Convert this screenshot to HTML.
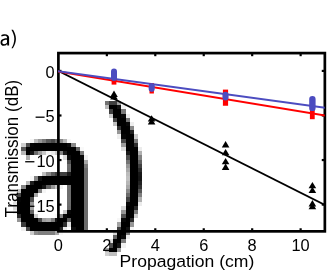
<!DOCTYPE html>
<html><head><meta charset="utf-8"><title>fig</title>
<style>html,body{margin:0;padding:0;background:#fff;overflow:hidden}svg{display:block;will-change:transform}</style></head>
<body>
<svg width="328" height="273" viewBox="0 0 328 273">
<defs>
<clipPath id="ax"><rect x="58.05" y="53.10" width="266.65" height="178.25"/></clipPath>
<filter id="nf" x="0" y="0" width="328" height="273" filterUnits="userSpaceOnUse"><feOffset dx="0" dy="0"/></filter>
</defs>
<rect width="328" height="273" fill="#fff"/>
<g filter="url(#nf)">
<g id="big" shape-rendering="crispEdges">
<rect x="105" y="101" width="4" height="4" fill="#727272"/>
<rect x="109" y="101" width="8" height="4" fill="#3f3f3f"/>
<rect x="117" y="101" width="4" height="4" fill="#9e9e9e"/>
<rect x="105" y="105" width="4" height="4" fill="#b9b9b9"/>
<rect x="109" y="105" width="8" height="4" fill="#000000"/>
<rect x="117" y="105" width="4" height="4" fill="#121212"/>
<rect x="121" y="105" width="5" height="4" fill="#f1f1f1"/>
<rect x="109" y="109" width="4" height="5" fill="#404040"/>
<rect x="113" y="109" width="8" height="5" fill="#000000"/>
<rect x="121" y="109" width="5" height="5" fill="#797979"/>
<rect x="109" y="114" width="4" height="4" fill="#c9c9c9"/>
<rect x="113" y="114" width="8" height="4" fill="#000000"/>
<rect x="121" y="114" width="5" height="4" fill="#080808"/>
<rect x="126" y="114" width="4" height="4" fill="#ececec"/>
<rect x="113" y="118" width="4" height="4" fill="#464646"/>
<rect x="117" y="118" width="9" height="4" fill="#000000"/>
<rect x="126" y="118" width="4" height="4" fill="#747474"/>
<rect x="113" y="122" width="4" height="4" fill="#c0c0c0"/>
<rect x="117" y="122" width="9" height="4" fill="#000000"/>
<rect x="126" y="122" width="4" height="4" fill="#090909"/>
<rect x="130" y="122" width="4" height="4" fill="#eeeeee"/>
<rect x="117" y="126" width="4" height="4" fill="#333333"/>
<rect x="121" y="126" width="9" height="4" fill="#000000"/>
<rect x="130" y="126" width="4" height="4" fill="#888888"/>
<rect x="117" y="130" width="4" height="4" fill="#969696"/>
<rect x="121" y="130" width="9" height="4" fill="#000000"/>
<rect x="130" y="130" width="4" height="4" fill="#222222"/>
<rect x="117" y="134" width="4" height="5" fill="#efefef"/>
<rect x="121" y="134" width="5" height="5" fill="#050505"/>
<rect x="126" y="134" width="8" height="5" fill="#000000"/>
<rect x="134" y="134" width="4" height="5" fill="#cccccc"/>
<rect x="30" y="139" width="4" height="4" fill="#f4f4f4"/>
<rect x="34" y="139" width="4" height="4" fill="#b9b9b9"/>
<rect x="38" y="139" width="4" height="4" fill="#979797"/>
<rect x="42" y="139" width="4" height="4" fill="#797979"/>
<rect x="46" y="139" width="5" height="4" fill="#585858"/>
<rect x="51" y="139" width="4" height="4" fill="#474747"/>
<rect x="55" y="139" width="4" height="4" fill="#686868"/>
<rect x="59" y="139" width="4" height="4" fill="#8a8a8a"/>
<rect x="63" y="139" width="4" height="4" fill="#b8b8b8"/>
<rect x="67" y="139" width="4" height="4" fill="#f7f7f7"/>
<rect x="121" y="139" width="5" height="4" fill="#494949"/>
<rect x="126" y="139" width="8" height="4" fill="#000000"/>
<rect x="134" y="139" width="4" height="4" fill="#7b7b7b"/>
<rect x="21" y="143" width="5" height="4" fill="#cfcfcf"/>
<rect x="26" y="143" width="4" height="4" fill="#4d4d4d"/>
<rect x="30" y="143" width="4" height="4" fill="#040404"/>
<rect x="34" y="143" width="33" height="4" fill="#000000"/>
<rect x="67" y="143" width="4" height="4" fill="#0b0b0b"/>
<rect x="71" y="143" width="5" height="4" fill="#898989"/>
<rect x="121" y="143" width="5" height="4" fill="#9b9b9b"/>
<rect x="126" y="143" width="8" height="4" fill="#000000"/>
<rect x="134" y="143" width="4" height="4" fill="#2e2e2e"/>
<rect x="21" y="147" width="5" height="4" fill="#575757"/>
<rect x="26" y="147" width="50" height="4" fill="#000000"/>
<rect x="76" y="147" width="4" height="4" fill="#606060"/>
<rect x="80" y="147" width="4" height="4" fill="#f9f9f9"/>
<rect x="121" y="147" width="5" height="4" fill="#dedede"/>
<rect x="126" y="147" width="12" height="4" fill="#000000"/>
<rect x="138" y="147" width="4" height="4" fill="#ececec"/>
<rect x="21" y="151" width="5" height="4" fill="#b7b7b7"/>
<rect x="26" y="151" width="4" height="4" fill="#000000"/>
<rect x="30" y="151" width="4" height="4" fill="#161616"/>
<rect x="34" y="151" width="4" height="4" fill="#6c6c6c"/>
<rect x="38" y="151" width="4" height="4" fill="#9f9f9f"/>
<rect x="42" y="151" width="4" height="4" fill="#c6c6c6"/>
<rect x="46" y="151" width="5" height="4" fill="#f4f4f4"/>
<rect x="51" y="151" width="4" height="4" fill="#eaeaea"/>
<rect x="55" y="151" width="4" height="4" fill="#cbcbcb"/>
<rect x="59" y="151" width="4" height="4" fill="#858585"/>
<rect x="63" y="151" width="4" height="4" fill="#1c1c1c"/>
<rect x="67" y="151" width="13" height="4" fill="#000000"/>
<rect x="80" y="151" width="4" height="4" fill="#777777"/>
<rect x="126" y="151" width="4" height="4" fill="#1a1a1a"/>
<rect x="130" y="151" width="8" height="4" fill="#000000"/>
<rect x="138" y="151" width="4" height="4" fill="#b0b0b0"/>
<rect x="26" y="155" width="4" height="5" fill="#adadad"/>
<rect x="63" y="155" width="4" height="5" fill="#dcdcdc"/>
<rect x="67" y="155" width="4" height="5" fill="#0c0c0c"/>
<rect x="71" y="155" width="9" height="5" fill="#000000"/>
<rect x="80" y="155" width="4" height="5" fill="#070707"/>
<rect x="84" y="155" width="4" height="5" fill="#f0f0f0"/>
<rect x="126" y="155" width="4" height="5" fill="#4e4e4e"/>
<rect x="130" y="155" width="8" height="5" fill="#000000"/>
<rect x="138" y="155" width="4" height="5" fill="#818181"/>
<rect x="67" y="160" width="4" height="4" fill="#4e4e4e"/>
<rect x="71" y="160" width="13" height="4" fill="#000000"/>
<rect x="84" y="160" width="4" height="4" fill="#a5a5a5"/>
<rect x="126" y="160" width="4" height="4" fill="#737373"/>
<rect x="130" y="160" width="8" height="4" fill="#000000"/>
<rect x="138" y="160" width="4" height="4" fill="#5f5f5f"/>
<rect x="67" y="164" width="4" height="4" fill="#6e6e6e"/>
<rect x="71" y="164" width="13" height="4" fill="#000000"/>
<rect x="84" y="164" width="4" height="4" fill="#787878"/>
<rect x="126" y="164" width="4" height="4" fill="#969696"/>
<rect x="130" y="164" width="8" height="4" fill="#000000"/>
<rect x="138" y="164" width="4" height="4" fill="#404040"/>
<rect x="67" y="168" width="4" height="4" fill="#6c6c6c"/>
<rect x="71" y="168" width="13" height="4" fill="#000000"/>
<rect x="84" y="168" width="4" height="4" fill="#6b6b6b"/>
<rect x="126" y="168" width="4" height="4" fill="#a9a9a9"/>
<rect x="130" y="168" width="8" height="4" fill="#000000"/>
<rect x="138" y="168" width="4" height="4" fill="#2a2a2a"/>
<rect x="42" y="172" width="4" height="4" fill="#bfbfbf"/>
<rect x="46" y="172" width="5" height="4" fill="#868686"/>
<rect x="51" y="172" width="4" height="4" fill="#5a5a5a"/>
<rect x="55" y="172" width="12" height="4" fill="#3f3f3f"/>
<rect x="67" y="172" width="4" height="4" fill="#1b1b1b"/>
<rect x="71" y="172" width="13" height="4" fill="#000000"/>
<rect x="84" y="172" width="4" height="4" fill="#6b6b6b"/>
<rect x="126" y="172" width="4" height="4" fill="#bbbbbb"/>
<rect x="130" y="172" width="8" height="4" fill="#000000"/>
<rect x="138" y="172" width="4" height="4" fill="#171717"/>
<rect x="30" y="176" width="4" height="5" fill="#f7f7f7"/>
<rect x="34" y="176" width="4" height="5" fill="#838383"/>
<rect x="38" y="176" width="4" height="5" fill="#131313"/>
<rect x="42" y="176" width="42" height="5" fill="#000000"/>
<rect x="84" y="176" width="4" height="5" fill="#6b6b6b"/>
<rect x="126" y="176" width="4" height="5" fill="#c1c1c1"/>
<rect x="130" y="176" width="8" height="5" fill="#000000"/>
<rect x="138" y="176" width="4" height="5" fill="#141414"/>
<rect x="26" y="181" width="4" height="4" fill="#b7b7b7"/>
<rect x="30" y="181" width="4" height="4" fill="#1e1e1e"/>
<rect x="34" y="181" width="50" height="4" fill="#000000"/>
<rect x="84" y="181" width="4" height="4" fill="#6b6b6b"/>
<rect x="126" y="181" width="4" height="4" fill="#b6b6b6"/>
<rect x="130" y="181" width="8" height="4" fill="#000000"/>
<rect x="138" y="181" width="4" height="4" fill="#212121"/>
<rect x="21" y="185" width="5" height="4" fill="#848484"/>
<rect x="26" y="185" width="16" height="4" fill="#000000"/>
<rect x="42" y="185" width="4" height="4" fill="#151515"/>
<rect x="46" y="185" width="5" height="4" fill="#606060"/>
<rect x="51" y="185" width="4" height="4" fill="#949494"/>
<rect x="55" y="185" width="4" height="4" fill="#c3c3c3"/>
<rect x="59" y="185" width="4" height="4" fill="#f1f1f1"/>
<rect x="67" y="185" width="4" height="4" fill="#6f6f6f"/>
<rect x="71" y="185" width="13" height="4" fill="#000000"/>
<rect x="84" y="185" width="4" height="4" fill="#6b6b6b"/>
<rect x="126" y="185" width="4" height="4" fill="#a8a8a8"/>
<rect x="130" y="185" width="8" height="4" fill="#000000"/>
<rect x="138" y="185" width="4" height="4" fill="#313131"/>
<rect x="17" y="189" width="4" height="4" fill="#c3c3c3"/>
<rect x="21" y="189" width="17" height="4" fill="#000000"/>
<rect x="38" y="189" width="4" height="4" fill="#818181"/>
<rect x="42" y="189" width="4" height="4" fill="#f5f5f5"/>
<rect x="67" y="189" width="4" height="4" fill="#6d6d6d"/>
<rect x="71" y="189" width="13" height="4" fill="#000000"/>
<rect x="84" y="189" width="4" height="4" fill="#6b6b6b"/>
<rect x="126" y="189" width="4" height="4" fill="#8a8a8a"/>
<rect x="130" y="189" width="8" height="4" fill="#000000"/>
<rect x="138" y="189" width="4" height="4" fill="#555555"/>
<rect x="17" y="193" width="4" height="4" fill="#434343"/>
<rect x="21" y="193" width="13" height="4" fill="#000000"/>
<rect x="34" y="193" width="4" height="4" fill="#a7a7a7"/>
<rect x="67" y="193" width="4" height="4" fill="#6d6d6d"/>
<rect x="71" y="193" width="13" height="4" fill="#000000"/>
<rect x="84" y="193" width="4" height="4" fill="#6b6b6b"/>
<rect x="126" y="193" width="4" height="4" fill="#6b6b6b"/>
<rect x="130" y="193" width="8" height="4" fill="#000000"/>
<rect x="138" y="193" width="4" height="4" fill="#7e7e7e"/>
<rect x="13" y="197" width="4" height="5" fill="#f5f5f5"/>
<rect x="17" y="197" width="4" height="5" fill="#040404"/>
<rect x="21" y="197" width="9" height="5" fill="#000000"/>
<rect x="30" y="197" width="4" height="5" fill="#4c4c4c"/>
<rect x="67" y="197" width="4" height="5" fill="#6e6e6e"/>
<rect x="71" y="197" width="13" height="5" fill="#000000"/>
<rect x="84" y="197" width="4" height="5" fill="#6b6b6b"/>
<rect x="126" y="197" width="4" height="5" fill="#414141"/>
<rect x="130" y="197" width="8" height="5" fill="#000000"/>
<rect x="138" y="197" width="4" height="5" fill="#afafaf"/>
<rect x="13" y="202" width="4" height="4" fill="#dedede"/>
<rect x="17" y="202" width="13" height="4" fill="#000000"/>
<rect x="30" y="202" width="4" height="4" fill="#939393"/>
<rect x="67" y="202" width="4" height="4" fill="#6c6c6c"/>
<rect x="71" y="202" width="13" height="4" fill="#000000"/>
<rect x="84" y="202" width="4" height="4" fill="#6b6b6b"/>
<rect x="126" y="202" width="4" height="4" fill="#090909"/>
<rect x="130" y="202" width="8" height="4" fill="#000000"/>
<rect x="138" y="202" width="4" height="4" fill="#ebebeb"/>
<rect x="13" y="206" width="4" height="4" fill="#d9d9d9"/>
<rect x="17" y="206" width="13" height="4" fill="#000000"/>
<rect x="30" y="206" width="4" height="4" fill="#a3a3a3"/>
<rect x="67" y="206" width="4" height="4" fill="#686868"/>
<rect x="71" y="206" width="13" height="4" fill="#000000"/>
<rect x="84" y="206" width="4" height="4" fill="#6b6b6b"/>
<rect x="121" y="206" width="5" height="4" fill="#d9d9d9"/>
<rect x="126" y="206" width="8" height="4" fill="#000000"/>
<rect x="134" y="206" width="4" height="4" fill="#282828"/>
<rect x="13" y="210" width="4" height="4" fill="#efefef"/>
<rect x="17" y="210" width="13" height="4" fill="#000000"/>
<rect x="30" y="210" width="4" height="4" fill="#666666"/>
<rect x="63" y="210" width="4" height="4" fill="#c8c8c8"/>
<rect x="67" y="210" width="4" height="4" fill="#060606"/>
<rect x="71" y="210" width="13" height="4" fill="#000000"/>
<rect x="84" y="210" width="4" height="4" fill="#6b6b6b"/>
<rect x="121" y="210" width="5" height="4" fill="#969696"/>
<rect x="126" y="210" width="8" height="4" fill="#000000"/>
<rect x="134" y="210" width="4" height="4" fill="#787878"/>
<rect x="17" y="214" width="4" height="4" fill="#282828"/>
<rect x="21" y="214" width="9" height="4" fill="#000000"/>
<rect x="30" y="214" width="4" height="4" fill="#050505"/>
<rect x="34" y="214" width="4" height="4" fill="#cecece"/>
<rect x="55" y="214" width="4" height="4" fill="#f7f7f7"/>
<rect x="59" y="214" width="4" height="4" fill="#858585"/>
<rect x="63" y="214" width="4" height="4" fill="#090909"/>
<rect x="67" y="214" width="17" height="4" fill="#000000"/>
<rect x="84" y="214" width="4" height="4" fill="#6b6b6b"/>
<rect x="121" y="214" width="5" height="4" fill="#525252"/>
<rect x="126" y="214" width="8" height="4" fill="#000000"/>
<rect x="134" y="214" width="4" height="4" fill="#cccccc"/>
<rect x="17" y="218" width="4" height="4" fill="#959595"/>
<rect x="21" y="218" width="17" height="4" fill="#000000"/>
<rect x="38" y="218" width="4" height="4" fill="#464646"/>
<rect x="42" y="218" width="4" height="4" fill="#9e9e9e"/>
<rect x="46" y="218" width="5" height="4" fill="#a8a8a8"/>
<rect x="51" y="218" width="4" height="4" fill="#7d7d7d"/>
<rect x="55" y="218" width="4" height="4" fill="#161616"/>
<rect x="59" y="218" width="8" height="4" fill="#000000"/>
<rect x="67" y="218" width="4" height="4" fill="#5a5a5a"/>
<rect x="71" y="218" width="13" height="4" fill="#000000"/>
<rect x="84" y="218" width="4" height="4" fill="#6b6b6b"/>
<rect x="117" y="218" width="4" height="4" fill="#f7f7f7"/>
<rect x="121" y="218" width="5" height="4" fill="#080808"/>
<rect x="126" y="218" width="4" height="4" fill="#000000"/>
<rect x="130" y="218" width="4" height="4" fill="#2b2b2b"/>
<rect x="21" y="222" width="5" height="5" fill="#3b3b3b"/>
<rect x="26" y="222" width="37" height="5" fill="#000000"/>
<rect x="63" y="222" width="4" height="5" fill="#2e2e2e"/>
<rect x="67" y="222" width="4" height="5" fill="#e2e2e2"/>
<rect x="71" y="222" width="13" height="5" fill="#000000"/>
<rect x="84" y="222" width="4" height="5" fill="#6b6b6b"/>
<rect x="117" y="222" width="4" height="5" fill="#a2a2a2"/>
<rect x="121" y="222" width="9" height="5" fill="#000000"/>
<rect x="130" y="222" width="4" height="5" fill="#969696"/>
<rect x="21" y="227" width="5" height="4" fill="#efefef"/>
<rect x="26" y="227" width="4" height="4" fill="#464646"/>
<rect x="30" y="227" width="29" height="4" fill="#000000"/>
<rect x="59" y="227" width="4" height="4" fill="#252525"/>
<rect x="63" y="227" width="4" height="4" fill="#e8e8e8"/>
<rect x="71" y="227" width="5" height="4" fill="#0e0e0e"/>
<rect x="76" y="227" width="8" height="4" fill="#000000"/>
<rect x="84" y="227" width="4" height="4" fill="#6b6b6b"/>
<rect x="117" y="227" width="4" height="4" fill="#404040"/>
<rect x="121" y="227" width="5" height="4" fill="#000000"/>
<rect x="126" y="227" width="4" height="4" fill="#111111"/>
<rect x="130" y="227" width="4" height="4" fill="#f5f5f5"/>
<rect x="30" y="231" width="4" height="4" fill="#cbcbcb"/>
<rect x="34" y="231" width="4" height="4" fill="#8b8b8b"/>
<rect x="38" y="231" width="13" height="4" fill="#7f7f7f"/>
<rect x="51" y="231" width="4" height="4" fill="#808080"/>
<rect x="55" y="231" width="4" height="4" fill="#aaaaaa"/>
<rect x="59" y="231" width="4" height="4" fill="#f8f8f8"/>
<rect x="113" y="231" width="4" height="4" fill="#d6d6d6"/>
<rect x="117" y="231" width="9" height="4" fill="#000000"/>
<rect x="126" y="231" width="4" height="4" fill="#7b7b7b"/>
<rect x="113" y="235" width="4" height="4" fill="#646464"/>
<rect x="117" y="235" width="4" height="4" fill="#000000"/>
<rect x="121" y="235" width="5" height="4" fill="#0a0a0a"/>
<rect x="126" y="235" width="4" height="4" fill="#ebebeb"/>
<rect x="109" y="239" width="4" height="4" fill="#dfdfdf"/>
<rect x="113" y="239" width="4" height="4" fill="#030303"/>
<rect x="117" y="239" width="4" height="4" fill="#000000"/>
<rect x="121" y="239" width="5" height="4" fill="#7b7b7b"/>
<rect x="109" y="243" width="4" height="5" fill="#4d4d4d"/>
<rect x="113" y="243" width="4" height="5" fill="#000000"/>
<rect x="117" y="243" width="4" height="5" fill="#151515"/>
<rect x="121" y="243" width="5" height="5" fill="#f0f0f0"/>
<rect x="105" y="248" width="4" height="4" fill="#a9a9a9"/>
<rect x="109" y="248" width="8" height="4" fill="#000000"/>
<rect x="117" y="248" width="4" height="4" fill="#9c9c9c"/>
<rect x="105" y="252" width="4" height="4" fill="#d0d0d0"/>
<rect x="109" y="252" width="8" height="4" fill="#bfbfbf"/>
</g>
<g id="small" transform="translate(-1.5,17.15) scale(0.1228,0.1225)"><path fill-rule="evenodd" d="M86.3 230.8 L86.3 167 C86.3 151 73 139.2 52 139.2 C40 139.2 29 142.5 22 147 L26 158 C32 154 41 151 50 151 C63 151 69 155 69 164 L69 173 C60 173 50 173.5 44 175.5 C36 178 28 182 23.2 187 C19 191.5 16.5 198 16.5 208 C16.5 224 28 233.3 42 233.3 C51 233.3 58 232.2 62 229.5 C65.5 227 68.5 223 70 218 L72 230.8 L86.3 230.8 Z M69 184.5 C60 184.5 52 185.5 46 188 C37 191.5 31 197 31 207 C31 215 37 221 46 221 C56 221 64 216 69 209 Z"/><path d="M118.5 102.3 C131 123 142 148 142 176.5 C142 203 131.5 231 117 253.3 L105.5 253.3 C119 234 128.8 205 128.8 176.5 C128.8 148 117 123 105 102.3 Z"/></g>
<rect x="58.40" y="53.10" width="266.45" height="178.25" fill="none" stroke="#000" stroke-width="2.7"/>
<line x1="106.85" y1="231.35" x2="106.85" y2="228.25" stroke="#000" stroke-width="2.2"/>
<line x1="106.85" y1="53.10" x2="106.85" y2="56.20" stroke="#000" stroke-width="2.2"/>
<line x1="155.29" y1="231.35" x2="155.29" y2="228.25" stroke="#000" stroke-width="2.2"/>
<line x1="155.29" y1="53.10" x2="155.29" y2="56.20" stroke="#000" stroke-width="2.2"/>
<line x1="203.74" y1="231.35" x2="203.74" y2="228.25" stroke="#000" stroke-width="2.2"/>
<line x1="203.74" y1="53.10" x2="203.74" y2="56.20" stroke="#000" stroke-width="2.2"/>
<line x1="252.18" y1="231.35" x2="252.18" y2="228.25" stroke="#000" stroke-width="2.2"/>
<line x1="252.18" y1="53.10" x2="252.18" y2="56.20" stroke="#000" stroke-width="2.2"/>
<line x1="300.63" y1="231.35" x2="300.63" y2="228.25" stroke="#000" stroke-width="2.2"/>
<line x1="300.63" y1="53.10" x2="300.63" y2="56.20" stroke="#000" stroke-width="2.2"/>
<line x1="58.40" y1="70.92" x2="61.50" y2="70.92" stroke="#000" stroke-width="2.2"/>
<line x1="324.85" y1="70.92" x2="321.75" y2="70.92" stroke="#000" stroke-width="2.2"/>
<line x1="58.40" y1="115.49" x2="61.50" y2="115.49" stroke="#000" stroke-width="2.2"/>
<line x1="324.85" y1="115.49" x2="321.75" y2="115.49" stroke="#000" stroke-width="2.2"/>
<line x1="58.40" y1="160.05" x2="61.50" y2="160.05" stroke="#000" stroke-width="2.2"/>
<line x1="324.85" y1="160.05" x2="321.75" y2="160.05" stroke="#000" stroke-width="2.2"/>
<line x1="58.40" y1="204.61" x2="61.50" y2="204.61" stroke="#000" stroke-width="2.2"/>
<line x1="324.85" y1="204.61" x2="321.75" y2="204.61" stroke="#000" stroke-width="2.2"/>
<g clip-path="url(#ax)" fill="none" stroke-linecap="butt">
<line x1="56.40" y1="69.95" x2="326.85" y2="206.01" stroke="#000" stroke-width="1.80"/>
<line x1="56.40" y1="71.17" x2="326.85" y2="115.85" stroke="#ff0000" stroke-width="2.00"/>
<line x1="56.40" y1="70.98" x2="326.85" y2="108.08" stroke="#4c4cc0" stroke-width="2.00"/>
</g>
<rect x="111.60" y="76.00" width="4.80" height="8.60" fill="#ff0000"/>
<rect x="149.50" y="83.30" width="4.40" height="10.20" fill="#ff0000"/>
<rect x="222.90" y="89.60" width="5.20" height="16.15" fill="#ff0000"/>
<rect x="309.90" y="104.00" width="4.80" height="15.20" fill="#ff0000"/>
<rect x="111.00" y="68.50" width="6.00" height="12.50" rx="3.00" ry="3.00" fill="#4c4cc0"/>
<rect x="148.65" y="83.00" width="6.10" height="8.90" rx="3.05" ry="3.05" fill="#4c4cc0"/>
<rect x="222.50" y="91.75" width="6.00" height="8.75" rx="3.00" ry="3.00" fill="#4c4cc0"/>
<rect x="309.20" y="95.90" width="6.40" height="15.20" rx="3.20" ry="3.20" fill="#4c4cc0"/>
<path d="M114.00 90.60 L117.80 96.90 L110.20 96.90 Z" fill="#000"/>
<path d="M114.00 93.20 L117.80 99.50 L110.20 99.50 Z" fill="#000"/>
<path d="M151.60 115.25 L155.40 121.55 L147.80 121.55 Z" fill="#000"/>
<path d="M151.60 118.20 L155.40 124.50 L147.80 124.50 Z" fill="#000"/>
<path d="M225.60 141.10 L229.40 147.40 L221.80 147.40 Z" fill="#000"/>
<path d="M225.60 149.00 L229.40 155.30 L221.80 155.30 Z" fill="#000"/>
<path d="M225.60 158.00 L229.40 164.30 L221.80 164.30 Z" fill="#000"/>
<path d="M225.60 163.60 L229.40 169.90 L221.80 169.90 Z" fill="#000"/>
<path d="M312.40 182.00 L316.20 188.30 L308.60 188.30 Z" fill="#000"/>
<path d="M312.40 186.70 L316.20 193.00 L308.60 193.00 Z" fill="#000"/>
<path d="M312.40 200.10 L316.20 206.40 L308.60 206.40 Z" fill="#000"/>
<path d="M312.40 202.95 L316.20 209.25 L308.60 209.25 Z" fill="#000"/>
<text x="58.40" y="251.00" font-size="16.4" font-family="Liberation Sans, sans-serif" text-anchor="middle" fill="#000">0</text>
<text x="106.85" y="251.00" font-size="16.4" font-family="Liberation Sans, sans-serif" text-anchor="middle" fill="#000">2</text>
<text x="155.29" y="251.00" font-size="16.4" font-family="Liberation Sans, sans-serif" text-anchor="middle" fill="#000">4</text>
<text x="203.74" y="251.00" font-size="16.4" font-family="Liberation Sans, sans-serif" text-anchor="middle" fill="#000">6</text>
<text x="252.18" y="251.00" font-size="16.4" font-family="Liberation Sans, sans-serif" text-anchor="middle" fill="#000">8</text>
<text x="300.63" y="251.00" font-size="16.4" font-family="Liberation Sans, sans-serif" text-anchor="middle" fill="#000">10</text>
<text x="54.70" y="77.92" font-size="16.4" font-family="Liberation Sans, sans-serif" text-anchor="end" fill="#000">0</text>
<text x="54.70" y="122.49" font-size="16.4" font-family="Liberation Sans, sans-serif" text-anchor="end" fill="#000">5</text>
<text x="54.70" y="167.05" font-size="16.4" font-family="Liberation Sans, sans-serif" text-anchor="end" fill="#000">10</text>
<text x="54.70" y="211.61" font-size="16.4" font-family="Liberation Sans, sans-serif" text-anchor="end" fill="#000">15</text>
<line x1="35.60" y1="117.19" x2="44.60" y2="117.19" stroke="#000" stroke-width="1.3"/>
<line x1="25.20" y1="161.75" x2="34.40" y2="161.75" stroke="#000" stroke-width="1.3"/>
<line x1="25.20" y1="206.31" x2="34.40" y2="206.31" stroke="#000" stroke-width="1.3"/>
<text x="119.6" y="267.1" font-size="17.4" font-family="Liberation Sans, sans-serif" textLength="134.7" lengthAdjust="spacingAndGlyphs" fill="#000">Propagation (cm)</text>
<text transform="translate(17.5,217.4) rotate(-90)" font-size="17.6" font-family="Liberation Sans, sans-serif" textLength="137.6" lengthAdjust="spacingAndGlyphs" fill="#000">Transmission (dB)</text>
</g>
</svg>
</body></html>
